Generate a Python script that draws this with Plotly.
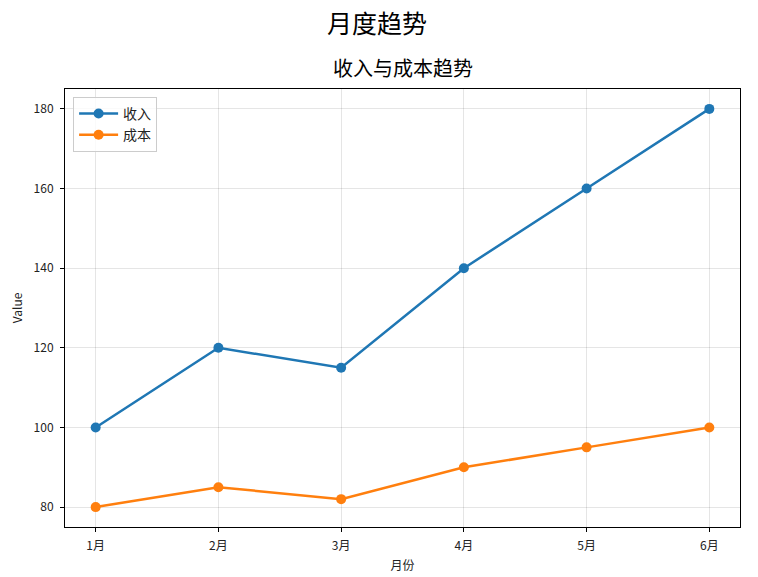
import plotly.graph_objects as go

months = ["1月", "2月", "3月", "4月", "5月", "6月"]
revenue = [100, 120, 115, 140, 160, 180]
cost = [80, 85, 82, 90, 95, 100]
y_ticks = [80, 100, 120, 140, 160, 180]

FONT = "Noto Sans CJK SC, Noto Sans, sans-serif"
x_idx = list(range(len(months)))

fig = go.Figure()
fig.add_trace(go.Scatter(x=x_idx, y=revenue, mode="lines+markers", name="收入",
                         line=dict(color="#1f77b4", width=2.5),
                         marker=dict(size=10, color="#1f77b4")))
fig.add_trace(go.Scatter(x=x_idx, y=cost, mode="lines+markers", name="成本",
                         line=dict(color="#ff7f0e", width=2.5),
                         marker=dict(size=10, color="#ff7f0e")))

fig.update_layout(
    width=758, height=577,
    paper_bgcolor="white", plot_bgcolor="white",
    font=dict(family=FONT, size=12, color="#222"),
    margin=dict(l=65, r=18, t=89, b=50),
    showlegend=True,
    legend=dict(x=0.012, y=0.982, xanchor="left", yanchor="top",
                bgcolor="rgba(255,255,255,0.8)", bordercolor="#ccc", borderwidth=1,
                font=dict(size=14, family=FONT), itemwidth=39,
                tracegroupgap=0),
    annotations=[
        dict(text="月度趋势", x=0.5, y=1, xref="paper", yref="paper",
             xanchor="center", yanchor="middle", showarrow=False,
             font=dict(size=25, family=FONT, color="black"),
             xshift=-26, yshift=67),
        dict(text="收入与成本趋势", x=0.5, y=1, xref="paper", yref="paper",
             xanchor="center", yanchor="bottom", showarrow=False,
             font=dict(size=20, family=FONT, color="black"), yshift=5),
    ],
)
fig.update_xaxes(
    range=[-0.25, len(months) - 0.75], tickvals=x_idx, ticktext=months,
    showline=True, linecolor="black", linewidth=1, mirror=True,
    ticks="outside", ticklen=4, tickcolor="black", ticklabelstandoff=4,
    showgrid=True, gridcolor="rgba(0,0,0,0.1)", zeroline=False, automargin=False,
    title=dict(text="月份", font=dict(size=12, family=FONT), standoff=9),
    tickfont=dict(size=12, family=FONT),
)
fig.update_yaxes(
    range=[75, 185], tickvals=y_ticks,
    showline=True, linecolor="black", linewidth=1, mirror=True,
    ticks="outside", ticklen=4, tickcolor="black", ticklabelstandoff=4,
    showgrid=True, gridcolor="rgba(0,0,0,0.1)", zeroline=False, automargin=False,
    title=dict(text="Value", font=dict(size=12, family=FONT), standoff=8),
    tickfont=dict(size=12, family=FONT),
)

fig.write_html("out.html",
               config={"displayModeBar": False},
               post_script="document.body.style.margin='0';document.body.style.overflow='hidden';")
